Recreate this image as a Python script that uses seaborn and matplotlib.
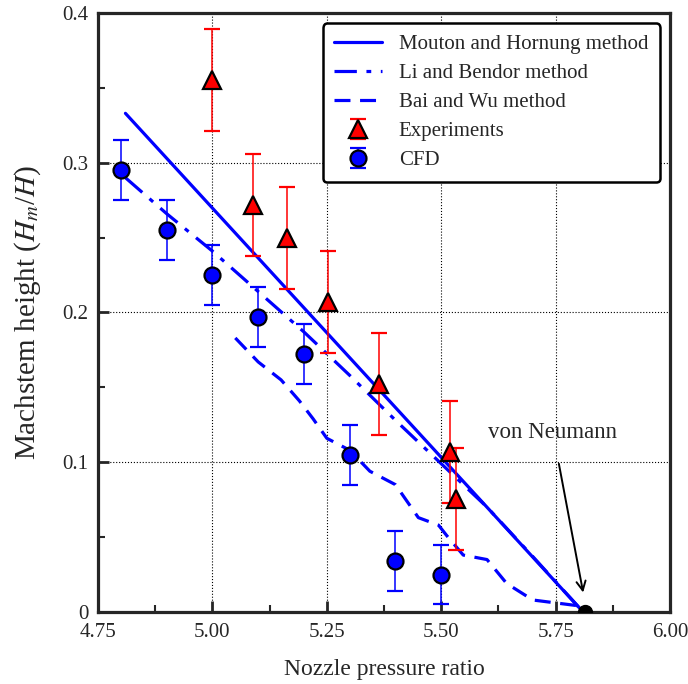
import seaborn as sns
import pandas as pd
import numpy as np
import matplotlib.pyplot as plt
from matplotlib.ticker import MultipleLocator, FormatStrFormatter

# Mouton and Hornung method
mh_npr = [4.81, 5.81]
mh_h = [0.333, 0.0]

# Li and Bendor method
lb_npr = [4.81, 4.90, 5.00, 5.10, 5.20, 5.30, 5.40, 5.50, 5.60, 5.70, 5.81]
lb_h = [0.290, 0.266, 0.241, 0.214, 0.187, 0.158, 0.128, 0.099, 0.070, 0.037, 0.0]

# Bai and Wu method
bw_npr = [5.05, 5.10, 5.15, 5.19, 5.22, 5.25, 5.30, 5.344, 5.40, 5.45, 5.494,
          5.512, 5.548, 5.60, 5.643, 5.70, 5.803]
bw_h = [0.183, 0.167, 0.155, 0.141, 0.129, 0.116, 0.108, 0.094, 0.085, 0.063,
        0.058, 0.051, 0.038, 0.035, 0.019, 0.008, 0.004]

# experiments
exp_npr = [5.00, 5.088, 5.162, 5.253, 5.364, 5.519, 5.532]
exp_h = [0.355, 0.272, 0.250, 0.207, 0.152, 0.107, 0.0755]
exp_err = [0.034, 0.034, 0.034, 0.034, 0.034, 0.034, 0.034]

# CFD
cfd_npr = [4.80, 4.90, 5.00, 5.10, 5.20, 5.30, 5.40, 5.50]
cfd_h = [0.295, 0.255, 0.225, 0.197, 0.172, 0.105, 0.034, 0.025]
cfd_err = [0.02, 0.02, 0.02, 0.02, 0.02, 0.02, 0.02, 0.02]

vn_npr = 5.815
vn_h = 0.0

sns.set_style("ticks")
plt.rcParams['font.family'] = ['Liberation Serif', 'DejaVu Serif']
plt.rcParams['mathtext.fontset'] = 'stix'

fig = plt.figure(figsize=(6.88, 6.84), dpi=100)
ax = fig.add_axes([0.1424, 0.1053, 0.8316, 0.8757])

blue = '#0000ff'
sns.lineplot(x=mh_npr, y=mh_h, ax=ax, color=blue, lw=2.3, label='Mouton and Hornung method')
sns.lineplot(x=lb_npr, y=lb_h, ax=ax, color=blue, lw=2.3, label='Li and Bendor method')
sns.lineplot(x=bw_npr, y=bw_h, ax=ax, color=blue, lw=2.3, label='Bai and Wu method')
lines = ax.get_lines()
lines[1].set_dashes([7, 3, 1.5, 3])
lines[2].set_dashes([5, 3])

ax.errorbar(exp_npr, exp_h, yerr=exp_err, fmt='^', color='red', mfc='red', mec='black',
            mew=1.6, ms=13, ecolor='red', elinewidth=1.1, capsize=6, capthick=1.6,
            label='Experiments', zorder=4)
ax.errorbar(cfd_npr, cfd_h, yerr=cfd_err, fmt='o', color=blue, mfc=blue, mec='black',
            mew=1.6, ms=11.5, ecolor=blue, elinewidth=1.1, capsize=6, capthick=1.6,
            label='CFD', zorder=4)
ax.plot([vn_npr], [vn_h], 'o', color='black', ms=10, zorder=5)

ax.annotate('von Neumann', xy=(5.81, 0.013), xytext=(5.744, 0.12),
            ha='center', va='center', fontsize=16.5,
            arrowprops=dict(arrowstyle='->', color='black', lw=1.4,
                            shrinkA=13, shrinkB=0))

ax.set_xlim(4.75, 6.0)
ax.set_ylim(0, 0.4)
ax.xaxis.set_major_locator(MultipleLocator(0.25))
ax.xaxis.set_minor_locator(MultipleLocator(0.125))
ax.yaxis.set_major_locator(MultipleLocator(0.1))
ax.yaxis.set_minor_locator(MultipleLocator(0.05))
ax.xaxis.set_major_formatter(FormatStrFormatter('%.2f'))
ax.set_yticks([0, 0.1, 0.2, 0.3, 0.4])
ax.set_yticklabels(['0', '0.1', '0.2', '0.3', '0.4'])
ax.tick_params(which='major', direction='in', length=8, width=2, labelsize=15)
ax.tick_params(axis='x', which='major', pad=8)
ax.tick_params(axis='y', which='major', pad=7)
ax.tick_params(which='minor', direction='in', length=5, width=1.5)
ax.grid(True, which='major', color='black', ls=':', lw=0.8)
for s in ax.spines.values():
    s.set_linewidth(2.3)

ax.set_xlabel('Nozzle pressure ratio', fontsize=17, labelpad=12)
ax.set_ylabel('Machstem height ($H_m$/$H$)', fontsize=21, labelpad=14)

leg = ax.legend(loc='upper right', fontsize=15, frameon=True, fancybox=True,
                edgecolor='black', framealpha=1, handlelength=2.3, borderpad=0.55,
                labelspacing=0.45, handletextpad=0.8)
leg.get_frame().set_linewidth(1.8)

fig.savefig('out.png', dpi=100)
